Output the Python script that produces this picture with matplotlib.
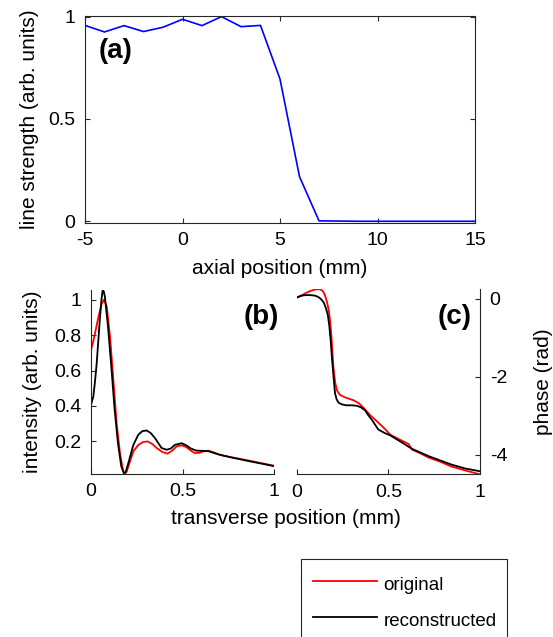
import matplotlib
matplotlib.use("Agg")
import matplotlib.pyplot as plt
import numpy as np

plt.rcParams['font.family'] = ['Liberation Sans', 'DejaVu Sans']
plt.rcParams['font.size'] = 14
plt.rcParams['axes.unicode_minus'] = False

# (a) line strength vs axial position
axial = list(range(-5, 16))
strength = [0.957, 0.925, 0.956, 0.927, 0.948, 0.987, 0.956, 1.0, 0.951, 0.957,
            0.695, 0.218, 0.002, 0.001, 0.0, 0.0, 0.0, 0.0, 0.0, 0.0, 0.0]

# (b) intensity, original
xb_orig = [0.0, 0.011, 0.022, 0.04, 0.058, 0.071, 0.086, 0.104, 0.122, 0.14, 0.158,
           0.176, 0.185, 0.195, 0.204, 0.231, 0.258, 0.285, 0.309, 0.335, 0.358, 0.39,
           0.418, 0.445, 0.467, 0.495, 0.52, 0.545, 0.565, 0.59, 0.615, 0.64, 0.665,
           0.70, 0.76, 0.82, 0.88, 0.94, 1.0]
int_orig = [0.715, 0.76, 0.81, 0.90, 0.975, 1.0, 0.96, 0.79, 0.547, 0.30, 0.135,
            0.03, 0.018, 0.03, 0.06, 0.144, 0.18, 0.197, 0.2, 0.185, 0.163, 0.14,
            0.131, 0.15, 0.172, 0.178, 0.168, 0.148, 0.135, 0.135, 0.145, 0.148, 0.14,
            0.125, 0.112, 0.100, 0.088, 0.075, 0.063]

# (b) intensity, reconstructed
xb_rec = [0.0, 0.0127, 0.022, 0.031, 0.04, 0.049, 0.057, 0.064, 0.07, 0.076, 0.093,
          0.111, 0.129, 0.147, 0.165, 0.18, 0.19, 0.204, 0.231, 0.258, 0.28, 0.303,
          0.325, 0.349, 0.385, 0.413, 0.435, 0.458, 0.495, 0.52, 0.545, 0.575, 0.61,
          0.64, 0.67, 0.71, 0.76, 0.82, 0.88, 0.94, 1.0]
int_rec = [0.406, 0.453, 0.54, 0.64, 0.77, 0.90, 1.0, 1.056, 1.045, 1.015, 0.846,
           0.62, 0.378, 0.19, 0.06, 0.02, 0.03, 0.079, 0.18, 0.238, 0.258, 0.262,
           0.248, 0.219, 0.163, 0.153, 0.16, 0.181, 0.19, 0.178, 0.16, 0.148, 0.147,
           0.145, 0.135, 0.123, 0.111, 0.098, 0.085, 0.073, 0.06]

# (c) phase, original
xc_orig = [0.0, 0.02, 0.04, 0.06, 0.08, 0.10, 0.118, 0.132, 0.145, 0.155, 0.165,
           0.175, 0.183, 0.19, 0.2, 0.21, 0.22, 0.235, 0.26, 0.29, 0.31, 0.34, 0.37,
           0.40, 0.44, 0.48, 0.51, 0.55, 0.58, 0.61, 0.63, 0.67, 0.72, 0.78, 0.845,
           0.92, 1.0]
ph_orig = [0.03, 0.07, 0.12, 0.17, 0.21, 0.235, 0.245, 0.235, 0.18, 0.08, -0.08,
           -0.3, -0.6, -1.0, -1.74, -2.15, -2.35, -2.46, -2.52, -2.57, -2.60, -2.68,
           -2.82, -2.98, -3.15, -3.33, -3.48, -3.58, -3.65, -3.72, -3.87, -3.95,
           -4.07, -4.17, -4.30, -4.40, -4.50]

# (c) phase, reconstructed
xc_rec = [0.0, 0.02, 0.04, 0.07, 0.1, 0.12, 0.135, 0.148, 0.16, 0.17, 0.178, 0.185,
          0.192, 0.2, 0.209, 0.218, 0.23, 0.25, 0.27, 0.30, 0.327, 0.35, 0.373, 0.39,
          0.41, 0.445, 0.48, 0.51, 0.573, 0.627, 0.718, 0.845, 0.92, 1.0]
ph_rec = [0.03, 0.07, 0.09, 0.095, 0.08, 0.04, -0.02, -0.1, -0.25, -0.42, -0.7,
          -1.05, -1.5, -1.95, -2.42, -2.58, -2.67, -2.71, -2.73, -2.73, -2.74, -2.78,
          -2.86, -2.98, -3.10, -3.35, -3.44, -3.50, -3.68, -3.84, -4.03, -4.25,
          -4.35, -4.42]

W, H = 553, 637
fig = plt.figure(figsize=(W / 100, H / 100), dpi=100)

def box(l, t, r, b):
    return [l / W, 1 - b / H, (r - l) / W, (b - t) / H]

spine_col = '#262626'

def style(ax, sides):
    for s in ['left', 'right', 'top', 'bottom']:
        ax.spines[s].set_visible(s in sides)
        ax.spines[s].set_color(spine_col)
        ax.spines[s].set_linewidth(0.8)
    ax.tick_params(direction='in', length=3.5, width=0.8, color=spine_col,
                   labelsize=14, pad=7)

# ---- (a)
ax_a = fig.add_axes(box(85, 16, 475, 222.7))
ax_a.plot(axial, strength, color='#0000ff', lw=1.2)
ax_a.set_xlim(-5, 15)
ax_a.set_ylim(-0.007, 1.003)
ax_a.set_xticks([-5, 0, 5, 10, 15])
ax_a.set_yticks([0, 0.5, 1])
ax_a.set_yticklabels(['0', '0.5', '1'])
style(ax_a, ['left', 'right', 'top', 'bottom'])
ax_a.tick_params(top=True, right=True)
ax_a.set_xlabel('axial position (mm)', fontsize=15, labelpad=7)
ax_a.set_ylabel('line strength (arb. units)', fontsize=15, labelpad=6.5)
ax_a.text(0.078, 0.83, '(a)', transform=ax_a.transAxes, fontsize=20,
          fontweight='bold', ha='center', va='center')

# ---- (b)
ax_b = fig.add_axes(box(91, 289.7, 274.3, 473.7))
l_orig, = ax_b.plot(xb_orig, int_orig, color='#ff0000', lw=1.3, label='original')
l_rec, = ax_b.plot(xb_rec, int_rec, color='black', lw=1.3, label='reconstructed')
ax_b.set_xlim(0, 1)
ax_b.set_ylim(0.018, 1.056)
ax_b.set_xticks([0, 0.5, 1])
ax_b.set_xticklabels(['0', '0.5', '1'])
ax_b.set_yticks([0.2, 0.4, 0.6, 0.8, 1])
ax_b.set_yticklabels(['0.2', '0.4', '0.6', '0.8', '1'])
style(ax_b, ['left', 'bottom'])
ax_b.set_ylabel('intensity (arb. units)', fontsize=15, labelpad=9)
ax_b.text(0.93, 0.85, '(b)', transform=ax_b.transAxes, fontsize=20,
          fontweight='bold', ha='center', va='center')

# ---- (c)
ax_c = fig.add_axes(box(296.7, 289, 480, 474))
ax_c.plot(xc_orig, ph_orig, color='#ff0000', lw=1.3)
ax_c.plot(xc_rec, ph_rec, color='black', lw=1.3)
ax_c.set_xlim(0, 1)
ax_c.set_ylim(-4.49, 0.25)
ax_c.set_xticks([0, 0.5, 1])
ax_c.set_xticklabels(['0', '0.5', '1'])
ax_c.set_yticks([0, -2, -4])
ax_c.yaxis.tick_right()
ax_c.yaxis.set_label_position('right')
style(ax_c, ['right', 'bottom'])
ax_c.set_ylabel('phase (rad)', fontsize=15, labelpad=19)
ax_c.text(0.86, 0.85, '(c)', transform=ax_c.transAxes, fontsize=20,
          fontweight='bold', ha='center', va='center')

fig.text(285.5 / W, 1 - 519 / H, 'transverse position (mm)', ha='center',
         va='center', fontsize=15)

# legend box, cut off by the figure edge like the original
leg = fig.legend([l_orig, l_rec], ['original', 'reconstructed'],
                 bbox_to_anchor=(300.7 / W, 0.0, (507 - 300.7) / W, 1 - 559.3 / H),
                 loc='upper left', mode='expand', borderaxespad=0,
                 fancybox=False, framealpha=1, edgecolor=spine_col,
                 handlelength=3.4, handletextpad=0.37, labelspacing=0.69,
                 handleheight=1.58, borderpad=0.65, fontsize=13.5)
leg.get_frame().set_linewidth(0.8)

fig.savefig('out.png', dpi=100)
